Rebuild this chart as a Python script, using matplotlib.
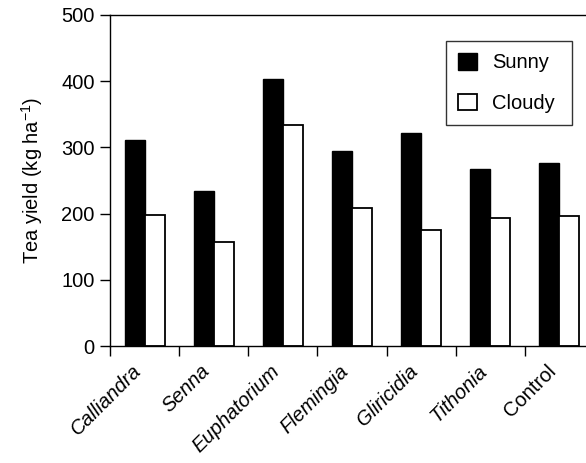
import matplotlib
matplotlib.use("Agg")
import matplotlib.pyplot as plt
import numpy as np

categories = ["Calliandra", "Senna", "Euphatorium", "Flemingia", "Gliricidia", "Tithonia", "Control"]
sunny = [311, 234, 403, 295, 321, 268, 276]
cloudy = [198, 157, 334, 209, 175, 194, 196]
yticks = [0, 100, 200, 300, 400, 500]

plt.rcParams['font.family'] = ['Liberation Sans', 'DejaVu Sans']
plt.rcParams['mathtext.fontset'] = 'custom'
plt.rcParams['mathtext.rm'] = 'Liberation Sans'

FS = 14.5
W, H = 586, 463
fig = plt.figure(figsize=(W / 100, H / 100), dpi=100)
ax = fig.add_axes([110 / W, 1 - 346 / H, (594 - 110) / W, (346 - 15) / H])

x = np.arange(len(categories))
bw = 0.29
ax.bar(x - bw / 2, sunny, width=bw, color='black', edgecolor='black', linewidth=1.0, label='Sunny')
ax.bar(x + bw / 2, cloudy, width=bw, color='white', edgecolor='black', linewidth=1.3, label='Cloudy')

ax.set_xlim(-0.5, len(categories) - 0.5)
ax.set_ylim(0, 500)
ax.set_yticks(yticks)
ax.set_yticklabels([str(v) for v in yticks], fontsize=FS)

ax.set_xticks(np.arange(len(categories) + 1) - 0.5)
ax.set_xticklabels([])
ax.set_xticks(x, minor=True)
ax.set_xticklabels(categories, minor=True, rotation=45, ha='right', fontsize=FS)
for lab in ax.get_xticklabels(minor=True):
    if lab.get_text() != 'Control':
        lab.set_fontstyle('italic')
ax.tick_params(axis='x', which='minor', length=0, pad=11)
ax.tick_params(axis='both', which='major', direction='out', length=7, width=1.0, pad=4)

for s in ax.spines.values():
    s.set_linewidth(1.0)

ax.set_ylabel('Tea yield (kg ha$^{-1}$)', fontsize=FS, labelpad=12)

leg = ax.legend(loc='upper left', bbox_to_anchor=(0.6936, 0.6767, 0.2616, 0.2448),
                mode='expand', borderaxespad=0, frameon=True, fancybox=False,
                fontsize=FS, handlelength=0.95, handleheight=0.9, handletextpad=0.75,
                labelspacing=1.05, borderpad=0.6)
leg.get_frame().set_edgecolor('black')
leg.get_frame().set_linewidth(1.0)

fig.savefig('out.png', dpi=100)
